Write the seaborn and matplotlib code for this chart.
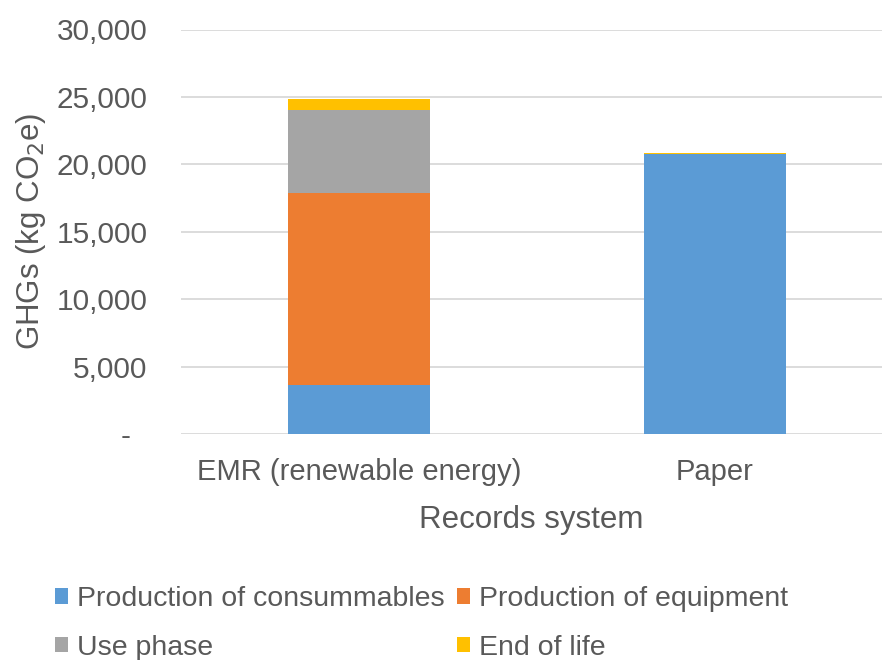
import matplotlib
matplotlib.use("Agg")
import matplotlib.pyplot as plt
from matplotlib.patches import Patch
from matplotlib.ticker import FuncFormatter
import numpy as np
import pandas as pd
import seaborn as sns

# Life-cycle GHG emissions by stage for each records system (kg CO2e)
systems = ["EMR (renewable energy)", "Paper"]
stages = ["Production of consummables", "Production of equipment", "Use phase", "End of life"]
consumables = [3640, 20780]
equipment = [14220, 0]
use_phase = [6180, 0]
end_of_life = [810, 60]
yticks = [0, 5000, 10000, 15000, 20000, 25000, 30000]

colors = ["#5B9BD5", "#ED7D31", "#A5A5A5", "#FFC000"]
text_color = "#595959"

sns.set_theme(style="white")
plt.rcParams["font.family"] = ["Liberation Sans", "DejaVu Sans"]

fig = plt.figure(figsize=(8.82, 6.6), dpi=100)
ax = fig.add_axes([181 / 882, 1 - 434 / 660, (882 - 181) / 882, (434 - 29.5) / 660])

# Stacked bars: draw the cumulative totals from the top stage down
layers = np.array([consumables, equipment, use_phase, end_of_life], dtype=float)
cumulative = np.cumsum(layers, axis=0)
for i in range(len(stages) - 1, -1, -1):
    df = pd.DataFrame({"system": systems, "value": cumulative[i]})
    sns.barplot(data=df, x="system", y="value", color=colors[i], width=0.4,
                saturation=1, ax=ax, zorder=2, linewidth=0)

ax.set_ylim(0, 30000)
ax.set_xlim(-0.5, (882 - 359) / 356)
ax.set_yticks(yticks)
# Accounting-style labels: zero shown as a dash, set in from the right edge
ax.yaxis.set_major_formatter(
    FuncFormatter(lambda v, p: "-\u2007" if v == 0 else f"{int(v):,}"))
ax.yaxis.grid(True, color="#D9D9D9", linewidth=1.3, zorder=0)
ax.set_axisbelow(True)
for s in ax.spines.values():
    s.set_visible(False)
ax.tick_params(axis="y", length=0, labelsize=21.4, colors=text_color, pad=24)
ax.tick_params(axis="x", length=0, labelsize=21, colors=text_color, pad=17)

ax.set_xlabel("Records system", fontsize=22.5, color=text_color, labelpad=14)
ax.set_ylabel("GHGs (kg CO$_2$e)", fontsize=22.5, color=text_color, labelpad=6)

handles = [Patch(facecolor=c, edgecolor="none") for c in colors]
order = [0, 2, 1, 3]
fig.legend([handles[i] for i in order], [stages[i] for i in order],
           ncol=2, loc="upper left", bbox_to_anchor=(55 / 882, 1 - 586 / 660),
           frameon=False, fontsize=20.5, labelcolor=text_color,
           handlelength=0.46, handleheight=0.46, handletextpad=0.32,
           columnspacing=0.42, labelspacing=0.8, borderaxespad=0, borderpad=0)

fig.savefig("out.png", dpi=100)
